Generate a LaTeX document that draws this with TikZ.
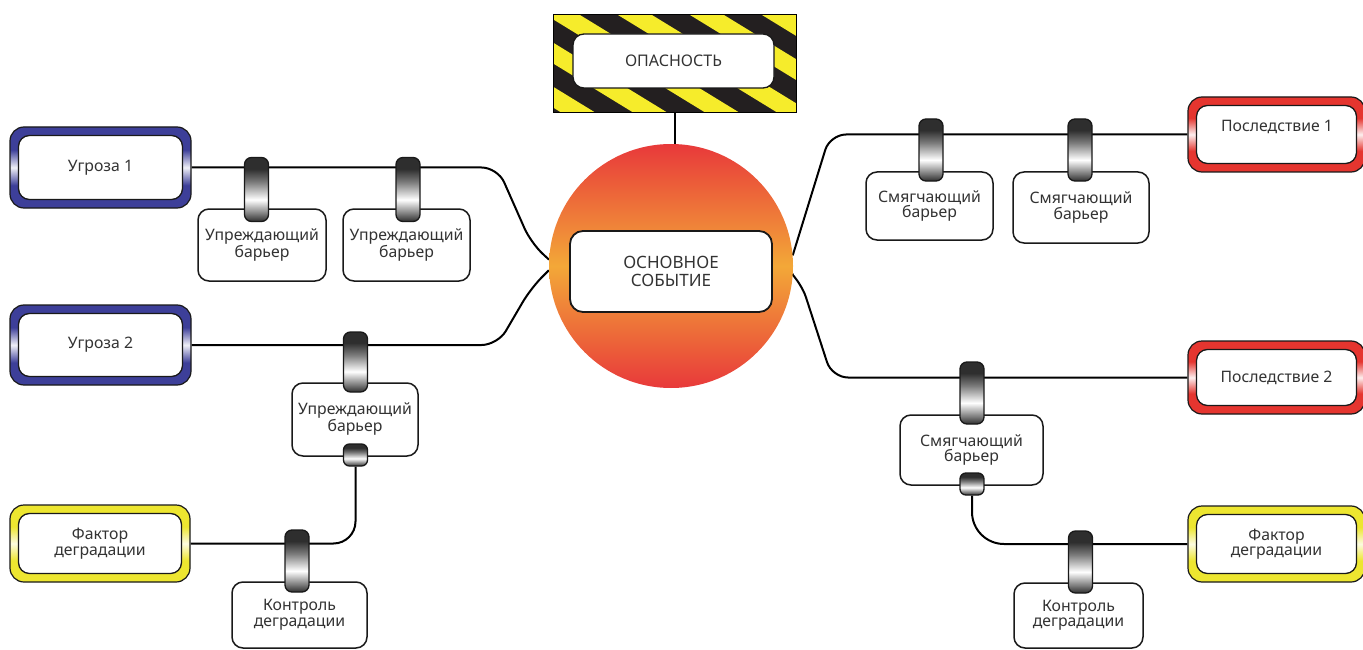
\documentclass[tikz,border=0pt]{standalone}
\usepackage{fontspec}
\setmainfont{Noto Sans}
\usetikzlibrary{backgrounds}
\definecolor{txt}{HTML}{333333}
\definecolor{tblue}{HTML}{3D3F99}
\definecolor{cred}{HTML}{E5352F}
\definecolor{fyel}{HTML}{EDE630}
\definecolor{hyel}{HTML}{F6EC2B}
\definecolor{hblk}{HTML}{231F20}
\definecolor{kdark}{HTML}{2E2E2E}
\definecolor{kmid}{HTML}{7A7A7A}
\definecolor{circr}{HTML}{E8393A}
\definecolor{circo}{HTML}{F3A838}
\pgfdeclareverticalshading{knobsh}{100bp}{color(0bp)=(kdark); color(25bp)=(kdark); color(31bp)=(kmid); color(42bp)=(white); color(56bp)=(kmid); color(66bp)=(kdark); color(100bp)=(kdark)}
\pgfdeclareverticalshading{circsh}{100bp}{color(0bp)=(circr); color(25bp)=(circr); color(50bp)=(circo); color(75bp)=(circr); color(100bp)=(circr)}
\pgfdeclareverticalshading{bandblue}{100bp}{color(0bp)=(tblue); color(39bp)=(tblue); color(50bp)=(tblue!8!white); color(61bp)=(tblue); color(100bp)=(tblue)}
\pgfdeclareverticalshading{bandred}{100bp}{color(0bp)=(cred); color(39bp)=(cred); color(50bp)=(cred!8!white); color(61bp)=(cred); color(100bp)=(cred)}
\pgfdeclareverticalshading{bandyel}{100bp}{color(0bp)=(fyel); color(39bp)=(fyel); color(50bp)=(fyel!15!white); color(61bp)=(fyel); color(100bp)=(fyel)}
\tikzset{
  lbl/.style={text=txt, font=\fontsize{15.8}{15.5}\selectfont, align=center, inner sep=0pt},
  barbox/.style={draw=black!90, line width=1.5pt, rounded corners=11pt, fill=white, lbl},
  outerbox/.style={draw=black!90, line width=1.2pt, rounded corners=14pt, shade, inner sep=0pt},
  innerbox/.style={draw=black!90, line width=1.3pt, rounded corners=11pt, fill=white, lbl},
  knob/.style={draw=black!90, line width=1.3pt, rounded corners=7pt, shade, shading=knobsh, minimum width=24pt, minimum height=62pt, inner sep=0pt},
  smallknob/.style={knob, minimum height=22pt, rounded corners=6pt},
  conn/.style={draw=black, line width=2pt}
}
\begin{document}
\begin{tikzpicture}[x=1pt, y=-1pt]
\useasboundingbox (0,0) rectangle (1363,650);

% hazard
\begin{scope}
  \clip (553,15) rectangle (796,113);
  \fill[hblk] (553,15) rectangle (796,113);
  \foreach \k in {-4,...,3} {
    \fill[hyel] ({618+72*\k},15) -- ++(34,0) -- ++(160,98) -- ++(-34,0) -- cycle;
  }
\end{scope}
\node[draw=black, line width=1pt, minimum width=243pt, minimum height=98pt, inner sep=0pt] (haz) at (674.5,64) {};
\node[innerbox, minimum width=201pt, minimum height=54pt, font=\fontsize{16}{16}\selectfont] (hazi) at (673.5,61) {ОПАСНОСТЬ};

% central event
\node[circle, minimum size=244pt, inner sep=0pt, shade, shading=circsh] (circ) at (671,266) {};
\node[innerbox, line width=1.8pt, rounded corners=13pt, minimum width=202pt, minimum height=81pt, font=\fontsize{17}{18}\selectfont] (ev) at (671,271.5) {ОСНОВНОЕ\\СОБЫТИЕ};

% threats
\node[outerbox, shading=bandblue, minimum width=181pt, minimum height=81pt] (t1) at (100.5,167.5) {};
\node[innerbox, minimum width=164pt, minimum height=64pt] (t1i) at (t1) {Угроза 1};
\node[outerbox, shading=bandblue, minimum width=181pt, minimum height=80pt] (t2) at (100.5,345) {};
\node[innerbox, minimum width=164pt, minimum height=63pt] (t2i) at (t2) {Угроза 2};
\node[outerbox, shading=bandyel, minimum width=180pt, minimum height=77pt] (f1) at (100,543.5) {};
\node[innerbox, minimum width=163pt, minimum height=60pt] (f1i) at (f1) {Фактор\\деградации};

% consequences
\node[outerbox, shading=bandred, minimum width=177pt, minimum height=75pt] (c1) at (1276.5,134.5) {};
\node[innerbox, minimum width=160pt, minimum height=58pt] (c1i) at (c1) {};
\node[lbl] (c1t) at (1277,127) {Последствие 1};
\node[outerbox, shading=bandred, minimum width=177pt, minimum height=73pt] (c2) at (1276.5,377.5) {};
\node[innerbox, minimum width=160pt, minimum height=56pt] (c2i) at (c2) {Последствие 2};
\node[outerbox, shading=bandyel, minimum width=177pt, minimum height=76pt] (f2) at (1276.5,544) {};
\node[innerbox, minimum width=160pt, minimum height=59pt] (f2i) at (f2) {Фактор\\деградации};

% barrier boxes
\node[barbox, minimum width=128pt, minimum height=72pt] (pb1) at (262,245) {Упреждающий\\барьер};
\node[barbox, minimum width=127pt, minimum height=72pt] (pb2) at (406.5,245) {Упреждающий\\барьер};
\node[barbox, minimum width=126pt, minimum height=73pt] (pb3) at (355,419.5) {Упреждающий\\барьер};
\node[barbox, minimum width=135pt, minimum height=66pt] (cd1) at (299.5,615) {Контроль\\деградации};
\node[barbox, minimum width=127pt, minimum height=68pt] (mb1) at (929.5,206) {Смягчающий\\барьер};
\node[barbox, minimum width=136pt, minimum height=71pt] (mb2) at (1081,207.5) {Смягчающий\\барьер};
\node[barbox, minimum width=143pt, minimum height=70pt] (mb3) at (971.5,450) {Смягчающий\\барьер};
\node[barbox, minimum width=129pt, minimum height=65pt] (cd2) at (1078.5,615.5) {Контроль\\деградации};

% knobs
\node[knob, minimum height=64pt] (k1) at (256.5,189.5) {};
\node[knob, minimum height=64pt] (k2) at (408,189.5) {};
\node[knob, minimum height=60pt] (k3) at (355.5,362) {};
\node[smallknob] (sk1) at (355.5,455) {};
\node[knob] (kc1) at (297,561) {};
\node[knob] (km1) at (931,150) {};
\node[knob] (km2) at (1080,150) {};
\node[knob] (km3) at (972,393) {};
\node[smallknob] (sk2) at (972,484) {};
\node[knob] (kc2) at (1080.5,562) {};

% connectors
\begin{pgfonlayer}{background}
\draw[conn] (haz.south) -- (haz.south |- circ.north);
\draw[conn, rounded corners=16pt] (t1.east) -- ++(306,0) -- (531,243) -- (circ.177);
\draw[conn, rounded corners=16pt] (t2.east) -- ++(306,0) -- (531,288) -- (circ.182);
\draw[conn, rounded corners=16pt] (circ.5) -- (830,134.5) -- (c1.west);
\draw[conn, rounded corners=16pt] (circ.-4) -- (801,282) -- (832,377.5) -- (c2.west);
\draw[conn, rounded corners=22pt] (sk1.south) -- (sk1.south |- f1.east) -- (f1.east);
\draw[conn, rounded corners=32pt] (sk2.south) -- (sk2.south |- f2.west) -- (f2.west);
\end{pgfonlayer}
\end{tikzpicture}
\end{document}
